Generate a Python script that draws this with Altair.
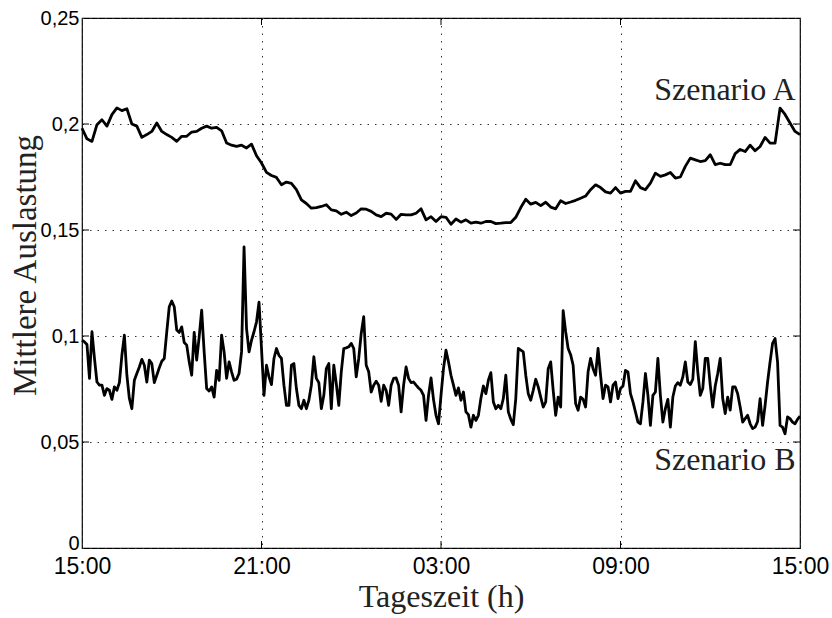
import altair as alt
import pandas as pd

# --- data (A: 10-min steps, B: 5-min steps, 15:00 -> 15:00) ---
scenario_a = [
    0.198, 0.193, 0.1918, 0.1997, 0.202, 0.199, 0.2044, 0.2076, 0.2063, 0.2072,
    0.200, 0.199, 0.1937, 0.195, 0.1965, 0.2005, 0.1965, 0.195, 0.1937, 0.1918,
    0.1942, 0.1942, 0.1962, 0.1965, 0.198, 0.199, 0.198, 0.1984, 0.1968, 0.191,
    0.190, 0.1894, 0.190, 0.1887, 0.1905, 0.1850, 0.1816, 0.1772, 0.1757, 0.1748,
    0.1713, 0.1726, 0.1720, 0.1690, 0.1642, 0.1625, 0.1603, 0.1606, 0.1611, 0.1619,
    0.1595, 0.1590, 0.1574, 0.1584, 0.1568, 0.1580, 0.1600, 0.1598, 0.1588, 0.1571,
    0.1563, 0.1579, 0.1575, 0.1550, 0.1574, 0.1571, 0.1571, 0.1579, 0.1600, 0.1548,
    0.1563, 0.1540, 0.1563, 0.1560, 0.1527, 0.1552, 0.1537, 0.1548, 0.1532, 0.1537,
    0.1532, 0.1540, 0.1540, 0.1530, 0.1532, 0.1535, 0.1535, 0.1560, 0.1606, 0.1645,
    0.1622, 0.1630, 0.1615, 0.1631, 0.1608, 0.1600, 0.1638, 0.1625, 0.1632, 0.1640,
    0.1650, 0.1660, 0.1690, 0.1713, 0.1700, 0.1680, 0.1674, 0.1700, 0.1674, 0.1682,
    0.1682, 0.1732, 0.1700, 0.1690, 0.1721, 0.1768, 0.1753, 0.1760, 0.1771, 0.1745,
    0.1750, 0.1800, 0.1839, 0.1831, 0.1823, 0.1827, 0.1855, 0.1808, 0.1815, 0.1808,
    0.1808, 0.1860, 0.1880, 0.1870, 0.1900, 0.1874, 0.1894, 0.1937, 0.1910, 0.1910,
    0.2075, 0.2045, 0.2005, 0.1965, 0.1950,
]

scenario_b = [
    0.098, 0.0972, 0.096, 0.080, 0.102, 0.0894, 0.0783, 0.0768, 0.0768, 0.072,
    0.0752, 0.0744, 0.0701, 0.076, 0.0744, 0.078, 0.0909, 0.1004, 0.0815, 0.0705,
    0.0657, 0.0791, 0.0823, 0.0854, 0.089, 0.0862, 0.0783, 0.0886, 0.087, 0.078,
    0.0815, 0.085, 0.0881, 0.0894, 0.102, 0.1138, 0.1165, 0.1138, 0.1028, 0.1017,
    0.1043, 0.0969, 0.0957, 0.0878, 0.0815, 0.1017, 0.0886, 0.0996, 0.1122, 0.0925,
    0.0752, 0.074, 0.076, 0.0712, 0.0838, 0.0791, 0.1004, 0.0925, 0.080, 0.0878,
    0.0831, 0.0791, 0.0796, 0.0823, 0.0925, 0.142, 0.1035, 0.0925, 0.098, 0.102,
    0.1067, 0.116, 0.0941, 0.072, 0.0862, 0.0807, 0.0771, 0.0894, 0.0941, 0.0909,
    0.0894, 0.0768, 0.0673, 0.0673, 0.0862, 0.087, 0.0752, 0.0673, 0.0657, 0.0697,
    0.0657, 0.0697, 0.0768, 0.0902, 0.080, 0.078, 0.0657, 0.072, 0.0846, 0.087,
    0.0657, 0.0862, 0.0775, 0.0673, 0.0831, 0.0941, 0.0944, 0.0949, 0.0965, 0.0941,
    0.0807, 0.0894, 0.1012, 0.1091, 0.0862, 0.0831, 0.0736, 0.0768, 0.0787, 0.0768,
    0.0692, 0.0768, 0.0744, 0.0673, 0.0768, 0.080, 0.0802, 0.0768, 0.0642, 0.0768,
    0.0854, 0.080, 0.078, 0.0783, 0.0768, 0.0755, 0.0744, 0.072, 0.0602, 0.072,
    0.0802, 0.070, 0.0626, 0.0586, 0.072, 0.0846, 0.0933, 0.0878, 0.0815, 0.0768,
    0.072, 0.0755, 0.0697, 0.0736, 0.0642, 0.0629, 0.057, 0.0626, 0.0602, 0.0626,
    0.0705, 0.0764, 0.0728, 0.0791, 0.0827, 0.0689, 0.0657, 0.0673, 0.0657, 0.0705,
    0.0815, 0.0642, 0.0607, 0.0582, 0.0705, 0.0941, 0.0933, 0.0925, 0.0815, 0.0728,
    0.0697, 0.0744, 0.0796, 0.076, 0.0712, 0.0665, 0.0689, 0.0846, 0.0878, 0.0744,
    0.0626, 0.0712, 0.0665, 0.112, 0.102, 0.0941, 0.0912, 0.0862, 0.0681, 0.065,
    0.0712, 0.0701, 0.0665, 0.0831, 0.0894, 0.0846, 0.0815, 0.0941, 0.0815, 0.0705,
    0.0768, 0.076, 0.0689, 0.0768, 0.0783, 0.0705, 0.0752, 0.0764, 0.0838, 0.0831,
    0.0728, 0.0689, 0.0642, 0.0594, 0.0586, 0.0689, 0.0823, 0.072, 0.0578, 0.072,
    0.0736, 0.0894, 0.072, 0.0594, 0.0657, 0.0701, 0.057, 0.0712, 0.0764, 0.078,
    0.0768, 0.0807, 0.0878, 0.0783, 0.0771, 0.0796, 0.0973, 0.0831, 0.072, 0.0752,
    0.0894, 0.0894, 0.0768, 0.0665, 0.0764, 0.0823, 0.0894, 0.0705, 0.0634, 0.0712,
    0.065, 0.076, 0.076, 0.0728, 0.0665, 0.0594, 0.061, 0.0626, 0.0586, 0.0563,
    0.057, 0.0597, 0.0705, 0.0578, 0.0673, 0.0783, 0.0878, 0.0965, 0.0988, 0.0878,
    0.0578, 0.057, 0.0539, 0.0618, 0.061, 0.0594, 0.0586, 0.0607, 0.0622,
]

x_ticks = [0, 6, 12, 18, 24]
x_labels = ["15:00", "21:00", "03:00", "09:00", "15:00"]
y_ticks = [0, 0.05, 0.1, 0.15, 0.2, 0.25]

label_names = ["Szenario A", "Szenario B"]
label_x = [23.85, 23.85]
label_y = [0.2115, 0.0366]

W, H = 718, 530

def series(vals, name):
    n = len(vals)
    return pd.DataFrame({"t": [i * 24.0 / (n - 1) for i in range(n)], "v": vals, "s": name})

df = pd.concat([series(scenario_a, "A"), series(scenario_b, "B")], ignore_index=True)

x_expr = "[" + ",".join("'%s'" % l for l in x_labels) + "][round(datum.value / 6)]"
y_expr = "replace(format(datum.value, ''), '.', ',')"

x_scale = alt.Scale(domain=[0, 24], nice=False, zero=False)
y_scale = alt.Scale(domain=[0, 0.25], nice=False)

x_axis = alt.Axis(
    values=x_ticks, labelExpr=x_expr, title="Tageszeit (h)",
    grid=True, gridDash=[1.5, 6], gridColor="#333", gridWidth=1,
    ticks=False, domain=False, labelFlush=False, labelOverlap=False,
    labelFont="Liberation Sans", labelFontSize=23, labelColor="black", labelPadding=7,
    titleFont="Liberation Serif", titleFontSize=32, titleFontWeight="normal",
    titleColor="#222", titleY=58, titleBaseline="alphabetic",
)
y_axis = alt.Axis(
    values=y_ticks, labelExpr=y_expr, title="Mittlere Auslastung",
    grid=True, gridDash=[1.5, 6], gridColor="#333", gridWidth=1,
    ticks=False, domain=False, labelOverlap=False, labelFlush=False,
    labelFont="Liberation Sans", labelFontSize=20, labelColor="black", labelPadding=3,
    labelOffset={"condition": {"test": "datum.value == 0", "value": -5}, "value": 0},
    titleFont="Liberation Serif", titleFontSize=33, titleFontWeight="normal",
    titleColor="#222", titleX=-40, titleY=247, titleBaseline="bottom",
)

lines = alt.Chart(df).mark_line(color="black", strokeWidth=2.8, strokeJoin="round").encode(
    x=alt.X("t:Q", scale=x_scale, axis=x_axis),
    y=alt.Y("v:Q", scale=y_scale, axis=y_axis),
    detail="s:N",
)

inner_y = pd.DataFrame({"v": y_ticks[1:-1]})
inner_x = pd.DataFrame({"t": x_ticks[1:-1]})

ticks_left = alt.Chart(inner_y).mark_rule(color="black", strokeWidth=1).encode(
    y="v:Q", x=alt.value(0), x2=alt.value(7))
ticks_right = alt.Chart(inner_y).mark_rule(color="black", strokeWidth=1).encode(
    y="v:Q", x=alt.value(W - 7), x2=alt.value(W))
ticks_bottom = alt.Chart(inner_x).mark_rule(color="black", strokeWidth=1).encode(
    x="t:Q", y=alt.value(H - 7), y2=alt.value(H))
ticks_top = alt.Chart(inner_x).mark_rule(color="black", strokeWidth=1).encode(
    x="t:Q", y=alt.value(0), y2=alt.value(7))

labels_df = pd.DataFrame({"name": label_names, "t": label_x, "v": label_y})
labels = alt.Chart(labels_df).mark_text(
    font="Liberation Serif", fontSize=32, color="#222", align="right", baseline="alphabetic"
).encode(x="t:Q", y="v:Q", text="name:N")

chart = alt.layer(lines, ticks_left, ticks_right, ticks_bottom, ticks_top, labels).properties(
    width=W, height=H,
    autosize=alt.AutoSizeParams(type="none"),
    padding={"left": 82, "top": 18, "right": 32, "bottom": 70},
    background="white",
).configure_view(stroke="black", strokeWidth=1.2)

chart.save("out.html", embed_options={"renderer": "svg", "actions": False})
